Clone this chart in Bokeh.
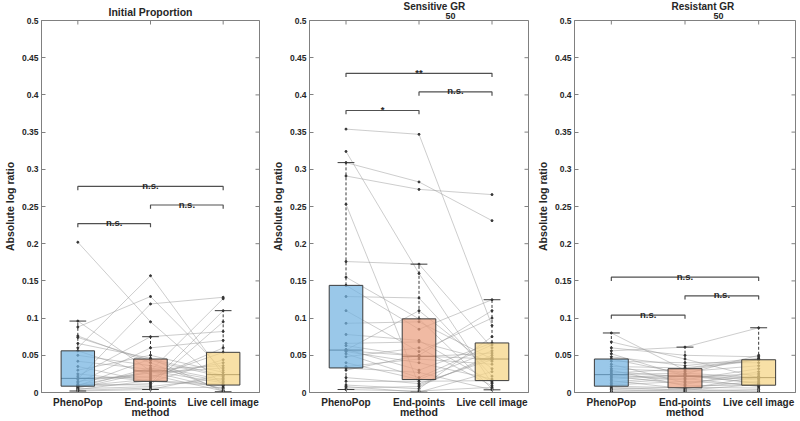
from math import pi
from bokeh.plotting import figure
from bokeh.layouts import row
from bokeh.models import FixedTicker, LinearAxis, Title, Range1d
from bokeh.embed import file_html
from bokeh.resources import INLINE
from bokeh.core.properties import value

FONT = "Liberation Sans"

methods = ["PhenoPop", "End-points", "Live cell image"]
xpos = [1, 2, 3]
x_lim = [0.5, 3.5]
box_colors = ["#73B3E0", "#EAA080", "#F5D484"]

y_ticks = [0, 0.05, 0.1, 0.15, 0.2, 0.25, 0.3, 0.35, 0.4, 0.45, 0.5]
y_tick_labels = ["0", "0.05", "0.1", "0.15", "0.2", "0.25", "0.3", "0.35", "0.4", "0.45", "0.5"]

titles = ["Initial Proportion", "Sensitive GR", "Resistant GR"]
title_subs = ["", "50", "50"]

# ---- Panel 1: Initial Proportion (paired samples) ----
ip_pheno = [0.202, 0.096, 0.088, 0.076, 0.074, 0.066, 0.060, 0.056, 0.050, 0.042,
            0.035, 0.030, 0.025, 0.022, 0.019, 0.019, 0.018, 0.015, 0.013, 0.011,
            0.010, 0.009, 0.0085, 0.008, 0.007, 0.006, 0.005, 0.004, 0.003, 0.002]
ip_end = [0.095, 0.029, 0.129, 0.040, 0.043, 0.046, 0.157, 0.024, 0.036, 0.031,
          0.014, 0.050, 0.015, 0.075, 0.022, 0.020, 0.119, 0.026, 0.060, 0.010,
          0.029, 0.045, 0.018, 0.012, 0.033, 0.028, 0.008, 0.016, 0.006, 0.004]
ip_live = [0.010, 0.013, 0.030, 0.003, 0.021, 0.001, 0.024, 0.002, 0.017, 0.036,
           0.044, 0.027, 0.009, 0.082, 0.040, 0.054, 0.128, 0.033, 0.070, 0.095,
           0.126, 0.023, 0.060, 0.110, 0.015, 0.005, 0.019, 0.011, 0.007, 0.024]
ip_q1 = [0.0085, 0.015, 0.010]
ip_med = [0.019, 0.029, 0.024]
ip_q3 = [0.056, 0.045, 0.054]
ip_lo = [0.002, 0.004, 0.001]
ip_hi = [0.096, 0.075, 0.110]
ip_br_x0 = [1, 2, 1]
ip_br_x1 = [2, 3, 3]
ip_br_y = [0.227, 0.252, 0.277]
ip_br_txt = ["n.s.", "n.s.", "n.s."]

# ---- Panel 2: Sensitive GR50 ----
sg_pheno = [0.354, 0.324, 0.309, 0.291, 0.253, 0.176, 0.155, 0.144, 0.129, 0.110,
            0.093, 0.078, 0.066, 0.063, 0.058, 0.057, 0.056, 0.055, 0.052, 0.048,
            0.040, 0.035, 0.033, 0.030, 0.020, 0.015, 0.010, 0.008, 0.006, 0.004]
sg_end = [0.347, 0.160, 0.283, 0.273, 0.010, 0.1725, 0.099, 0.085, 0.127, 0.055,
          0.095, 0.070, 0.068, 0.048, 0.030, 0.110, 0.049, 0.040, 0.020, 0.060,
          0.0175, 0.045, 0.027, 0.050, 0.012, 0.015, 0.005, 0.0005, 0.008, 0.002]
sg_live = [0.090, 0.012, 0.231, 0.266, 0.047, 0.060, 0.005, 0.1247, 0.022, 0.100,
           0.045, 0.014, 0.042, 0.053, 0.0666, 0.032, 0.045, 0.018, 0.064, 0.009,
           0.056, 0.038, 0.0036, 0.110, 0.044, 0.016, 0.075, 0.028, 0.050, 0.007]
sg_q1 = [0.033, 0.0174, 0.016]
sg_med = [0.057, 0.0487, 0.045]
sg_q3 = [0.144, 0.099, 0.0666]
sg_lo = [0.004, 0.0005, 0.0036]
sg_hi = [0.309, 0.1725, 0.1247]
sg_br_x0 = [1, 2, 1]
sg_br_x1 = [2, 3, 3]
sg_br_y = [0.379, 0.404, 0.429]
sg_br_txt = ["*", "n.s.", "**"]

# ---- Panel 3: Resistant GR50 ----
rg_pheno = [0.080, 0.056, 0.068, 0.060, 0.052, 0.048, 0.045, 0.042, 0.038, 0.035,
            0.032, 0.030, 0.028, 0.026, 0.024, 0.024, 0.022, 0.020, 0.018, 0.016,
            0.014, 0.012, 0.010, 0.0085, 0.007, 0.005, 0.004, 0.002, 0.001, 0.000]
rg_end = [0.030, 0.061, 0.045, 0.050, 0.022, 0.036, 0.025, 0.040, 0.013, 0.033,
          0.028, 0.009, 0.021, 0.032, 0.017, 0.026, 0.011, 0.024, 0.023, 0.005,
          0.022, 0.019, 0.015, 0.0063, 0.003, 0.007, 0.002, 0.004, 0.001, 0.000]
rg_live = [0.044, 0.087, 0.020, 0.048, 0.013, 0.046, 0.050, 0.040, 0.022, 0.045,
           0.036, 0.010, 0.025, 0.044, 0.032, 0.020, 0.028, 0.012, 0.019, 0.021,
           0.017, 0.008, 0.0098, 0.015, 0.011, 0.006, 0.004, 0.002, 0.001, 0.000]
rg_q1 = [0.0085, 0.0063, 0.0098]
rg_med = [0.024, 0.022, 0.020]
rg_q3 = [0.045, 0.032, 0.044]
rg_lo = [0.0, 0.0, 0.0]
rg_hi = [0.080, 0.061, 0.087]
rg_br_x0 = [1, 2, 1]
rg_br_x1 = [2, 3, 3]
rg_br_y = [0.104, 0.130, 0.155]
rg_br_txt = ["n.s.", "n.s.", "n.s."]

AXIS_COL = "#808080"
TEXT_COL = "#262626"
BOX_HALF = 0.23
CAP_HALF = 0.115
TICK_D = 0.005
FIG_H = 420


def style_axis(ax):
    ax.axis_line_color = AXIS_COL
    ax.major_tick_line_color = AXIS_COL
    ax.minor_tick_line_color = None
    ax.major_tick_in = 4
    ax.major_tick_out = 0
    ax.major_label_text_font = FONT
    ax.major_label_text_color = TEXT_COL
    ax.major_label_text_font_style = "bold"
    ax.axis_label_text_font = FONT
    ax.axis_label_text_color = TEXT_COL
    ax.axis_label_text_font_style = "bold"


def make_panel(title, sub, t_off, s_off, groups, q1, med, q3, lo, hi,
               bx0, bx1, by, btxt, width, mbl, mbr):
    p = figure(width=width, height=FIG_H, x_range=Range1d(*x_lim),
               y_range=Range1d(y_ticks[0], y_ticks[-1]),
               x_axis_type=None, y_axis_type=None, output_backend="svg", title=None,
               toolbar_location=None, min_border_left=mbl, min_border_right=mbr,
               min_border_top=20, min_border_bottom=0)
    p.outline_line_color = AXIS_COL
    p.outline_line_width = 1

    left = LinearAxis(ticker=FixedTicker(ticks=y_ticks),
                      major_label_overrides=dict(zip(y_ticks, y_tick_labels)))
    style_axis(left)
    left.major_label_text_font_size = "8.5px"
    left.major_label_standoff = 3
    left.axis_label = "Absolute log ratio"
    left.axis_label_text_font_size = "10.5px"
    left.axis_label_standoff = 3
    p.add_layout(left, "left")

    bottom = LinearAxis(ticker=FixedTicker(ticks=xpos),
                        major_label_overrides=dict(zip(xpos, methods)))
    style_axis(bottom)
    bottom.major_label_text_font_size = "10px"
    bottom.major_label_standoff = 4
    bottom.axis_label = "method"
    bottom.axis_label_text_font_size = "10.5px"
    bottom.axis_label_standoff = -5
    p.add_layout(bottom, "below")

    # inward ticks on the top and right edges of the box (outer halves are clipped)
    p.scatter(x=[x_lim[1]] * len(y_ticks), y=y_ticks, marker="dash", size=8, angle=0,
              line_color=AXIS_COL, line_width=1)
    p.scatter(x=xpos, y=[y_ticks[-1]] * len(xpos), marker="dash", size=8, angle=pi / 2,
              line_color=AXIS_COL, line_width=1)

    n = len(groups[0])
    xs = [list(xpos) for _ in range(n)]
    ys = [[groups[0][i], groups[1][i], groups[2][i]] for i in range(n)]
    p.multi_line(xs=xs, ys=ys, line_color="#9a9a9a", line_width=0.7, line_alpha=0.7)

    # whiskers, caps, medians
    p.segment(x0=xpos, y0=q3, x1=xpos, y1=hi, line_color="#3a3a3a", line_width=1,
              line_dash="3 2")
    p.segment(x0=xpos, y0=q1, x1=xpos, y1=lo, line_color="#3a3a3a", line_width=1,
              line_dash="3 2")
    p.segment(x0=[x - CAP_HALF for x in xpos], y0=hi, x1=[x + CAP_HALF for x in xpos], y1=hi,
              line_color="#3a3a3a", line_width=1)
    p.segment(x0=[x - CAP_HALF for x in xpos], y0=lo, x1=[x + CAP_HALF for x in xpos], y1=lo,
              line_color="#3a3a3a", line_width=1)
    p.segment(x0=[x - BOX_HALF for x in xpos], y0=med, x1=[x + BOX_HALF for x in xpos], y1=med,
              line_color="#2a2a2a", line_width=1)

    # points
    for gi in range(3):
        p.scatter(x=[xpos[gi]] * n, y=groups[gi], size=2, color="#333333")

    # boxes (translucent patches on top)
    p.quad(left=[x - BOX_HALF for x in xpos], right=[x + BOX_HALF for x in xpos],
           bottom=q1, top=q3, fill_color=box_colors, fill_alpha=0.72,
           line_color="#3c3c3c", line_width=1)

    # significance brackets
    bxs, bys = [], []
    for a, b, y in zip(bx0, bx1, by):
        bxs.append([a, a, b, b])
        bys.append([y - TICK_D, y, y, y - TICK_D])
    p.multi_line(xs=bxs, ys=bys, line_color="#505050", line_width=1.2)
    p.text(x=[(a + b) / 2 for a, b in zip(bx0, bx1)], y=by, text=btxt,
           text_font=value(FONT), text_font_size="9.5px", text_font_style="bold",
           text_color=TEXT_COL, text_align="center", text_baseline="alphabetic",
           y_offset=-1)

    # titles (subscript as its own row, placed right after "GR")
    if sub:
        p.add_layout(Title(text=sub, align="left", offset=s_off, standoff=3,
                           text_font=FONT, text_font_size="9px",
                           text_font_style="bold", text_color=TEXT_COL), "above")
        p.add_layout(Title(text=title, align="left", offset=t_off, standoff=-5,
                           text_font=FONT, text_font_size="10px",
                           text_font_style="bold", text_color=TEXT_COL), "above")
    else:
        p.add_layout(Title(text=title, align="center", standoff=6,
                           text_font=FONT, text_font_size="10.5px",
                           text_font_style="bold", text_color=TEXT_COL), "above")
    return p


p1 = make_panel(titles[0], title_subs[0], 0, 0, [ip_pheno, ip_end, ip_live],
                ip_q1, ip_med, ip_q3, ip_lo, ip_hi, ip_br_x0, ip_br_x1, ip_br_y, ip_br_txt,
                width=268, mbl=36, mbr=9)
p2 = make_panel(titles[1], title_subs[1], 94, 136, [sg_pheno, sg_end, sg_live],
                sg_q1, sg_med, sg_q3, sg_lo, sg_hi, sg_br_x0, sg_br_x1, sg_br_y, sg_br_txt,
                width=265, mbl=36, mbr=5)
p3 = make_panel(titles[2], title_subs[2], 97, 139, [rg_pheno, rg_end, rg_live],
                rg_q1, rg_med, rg_q3, rg_lo, rg_hi, rg_br_x0, rg_br_x1, rg_br_y, rg_br_txt,
                width=266, mbl=36, mbr=4)

layout = row(p1, p2, p3)
open("out.html", "w").write(file_html(layout, INLINE))
